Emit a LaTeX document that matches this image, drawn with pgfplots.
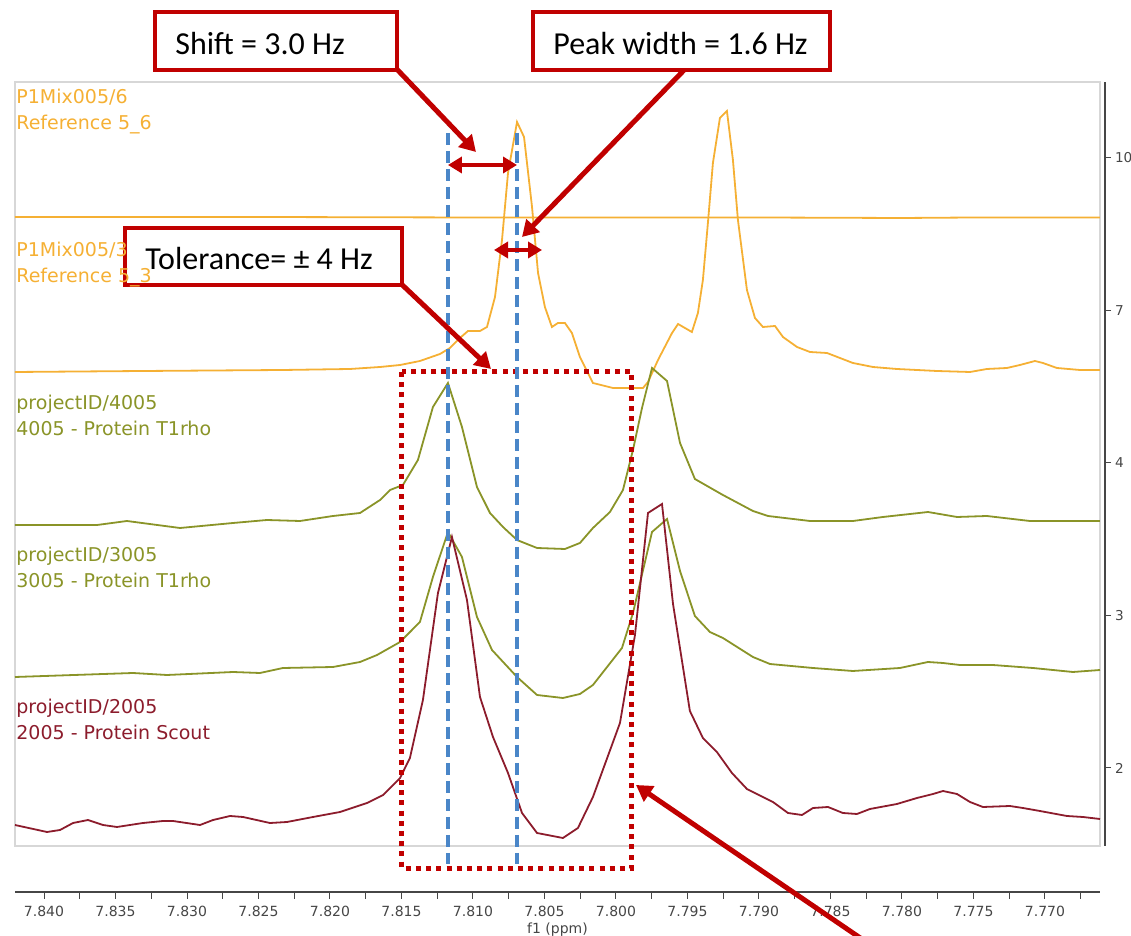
\documentclass[border=0pt]{standalone}
\usepackage{fontspec}
\usepackage{pgfplots}
\usepackage{pgfplotstable}
\pgfplotsset{compat=1.18}
\usetikzlibrary{arrows.meta}
\setmainfont{DejaVu Sans}
\newfontfamily\notefont{Carlito}

\definecolor{refcol}{RGB}{245,176,52}
\definecolor{olivecol}{RGB}{138,148,40}
\definecolor{scoutcol}{RGB}{140,28,44}
\definecolor{annred}{RGB}{192,0,0}
\definecolor{annblue}{RGB}{74,134,200}
\definecolor{framegray}{RGB}{215,215,215}
\definecolor{axisgray}{RGB}{70,70,70}

% stacked 1H spectra: chemical shift (ppm) and stacked intensity
\pgfplotstableread{
ppm int
7.84203 629
7.82500 629
7.81000 628.5
7.80000 628.5
7.79000 628.5
7.78000 628
7.77500 628.5
7.76615 628.5
}\refsix

\pgfplotstableread{
ppm int
7.84203 474
7.83308 475
7.82329 476
7.81860 477
7.81650 479
7.81510 481
7.81371 485
7.81231 492
7.81161 498
7.81091 508
7.81035 515
7.80951 515
7.80902 519
7.80846 549
7.80797 606
7.80755 673
7.80692 724
7.80643 709
7.80587 639
7.80545 573
7.80497 539
7.80448 519
7.80406 523
7.80357 523
7.80308 513
7.80252 489
7.80161 463
7.80021 458
7.79811 458
7.79776 464
7.79706 486
7.79608 513
7.79566 522
7.79469 514
7.79427 533
7.79392 566
7.79357 623
7.79322 683
7.79273 728
7.79224 735
7.79182 686
7.79147 626
7.79084 556
7.79028 528
7.78972 519
7.78888 520
7.78832 509
7.78734 499
7.78643 494
7.78524 493
7.78343 483
7.78203 479
7.78035 477
7.77755 475
7.77524 474
7.77406 477
7.77266 478
7.77175 481
7.77070 485
7.77014 483
7.76916 478
7.76755 476
7.76615 476
}\refthree

\pgfplotstableread{
ppm int
7.84203 321
7.83629 321
7.83420 325
7.83049 318
7.82678 323
7.82441 326
7.82210 325
7.81979 330
7.81790 333
7.81650 346
7.81580 356
7.81490 361
7.81385 386
7.81280 439
7.81175 463
7.81077 419
7.80972 359
7.80881 333
7.80790 319
7.80692 306
7.80552 298
7.80357 297
7.80252 303
7.80161 318
7.80042 334
7.79951 356
7.79881 396
7.79818 438
7.79748 478
7.79643 465
7.79552 403
7.79448 367
7.79252 351
7.79042 335
7.78937 330
7.78643 325
7.78343 325
7.78133 329
7.77818 334
7.77615 329
7.77406 330
7.77105 325
7.76615 325
}\protA

\pgfplotstableread{
ppm int
7.84203 169
7.83378 173
7.83140 171
7.82678 174
7.82490 173
7.82329 178
7.81979 179
7.81790 184
7.81671 191
7.81510 204
7.81371 224
7.81280 269
7.81175 314
7.81077 289
7.80972 229
7.80867 196
7.80692 169
7.80552 151
7.80371 148
7.80252 152
7.80161 161
7.79958 198
7.79881 233
7.79748 314
7.79643 327
7.79552 275
7.79448 230
7.79343 214
7.79252 208
7.79042 189
7.78923 182
7.78622 178
7.78343 175
7.78014 178
7.77818 184
7.77713 183
7.77594 181
7.77364 181
7.77084 178
7.76804 174
7.76615 176
}\protB

\pgfplotstableread{
ppm int
7.84203 21
7.83979 14
7.83888 16
7.83797 23
7.83692 26
7.83587 21
7.83490 19
7.83308 23
7.83168 25
7.83098 25
7.82909 21
7.82818 26
7.82699 30
7.82608 29
7.82420 23
7.82301 24
7.82119 29
7.81930 34
7.81741 43
7.81629 51
7.81510 68
7.81441 88
7.81350 146
7.81245 253
7.81147 309
7.81042 246
7.80951 149
7.80860 109
7.80755 73
7.80657 33
7.80552 13
7.80371 8
7.80266 18
7.80161 49
7.79972 123
7.79867 211
7.79776 333
7.79678 342
7.79601 242
7.79483 135
7.79392 108
7.79294 94
7.79189 73
7.79084 57
7.78902 44
7.78797 33
7.78699 31
7.78622 38
7.78517 39
7.78413 33
7.78315 32
7.78224 37
7.78035 42
7.77895 48
7.77783 52
7.77713 55
7.77615 52
7.77524 44
7.77434 39
7.77245 40
7.77154 38
7.77035 35
7.76846 30
7.76734 29
7.76615 27
}\scout

\begin{document}
\begin{tikzpicture}
\useasboundingbox (0,0) rectangle (565.5bp,468bp);

% ---- stacked spectra ----
\begin{axis}[
  at={(7.5bp,45bp)}, anchor=south west,
  scale only axis, width=542.5bp, height=382bp,
  x dir=reverse, xmin=7.76615, xmax=7.84203,
  ymin=0, ymax=764,
  xtick=\empty, ytick=\empty,
  axis line style={draw=framegray, line width=0.6bp},
  clip=false]
\addplot[refcol, line width=0.9bp] table[x=ppm,y=int] {\refsix};
\addplot[refcol, line width=0.9bp] table[x=ppm,y=int] {\refthree};
\addplot[olivecol, line width=0.9bp] table[x=ppm,y=int] {\protA};
\addplot[olivecol, line width=0.9bp] table[x=ppm,y=int] {\protB};
\addplot[scoutcol, line width=0.9bp] table[x=ppm,y=int] {\scout};

% tolerance window
\draw[annred, line width=2.5bp, dash pattern=on 2.5bp off 2.6bp]
  (axis cs:7.81497,474) rectangle (axis cs:7.79888,-22);

% observed and reference peak positions
\addplot[annblue, line width=2bp, dash pattern=on 6bp off 3bp] coordinates {(7.81175,713) (7.81175,-18)};
\addplot[annblue, line width=2bp, dash pattern=on 6bp off 3bp] coordinates {(7.80692,713) (7.80692,-18)};

% shift and peak width
\draw[annred, line width=2bp, {Triangle[length=7bp,width=8bp]}-{Triangle[length=7bp,width=8bp]}]
  (axis cs:7.81175,681) -- (axis cs:7.80692,681);
\draw[annred, line width=2bp, {Triangle[length=7bp,width=8bp]}-{Triangle[length=7bp,width=8bp]}]
  (axis cs:7.80853,596) -- (axis cs:7.80517,596);
\end{axis}

% ---- chemical shift axis ----
\begin{axis}[
  at={(7.5bp,22bp)}, anchor=south west,
  scale only axis, width=542.5bp, height=5bp,
  x dir=reverse, xmin=7.76615, xmax=7.84203,
  ymin=0, ymax=1,
  axis x line*=bottom, axis y line=none,
  x axis line style={-, draw=axisgray, line width=0.6bp},
  xtick={7.770,7.775,7.780,7.785,7.790,7.795,7.800,7.805,7.810,7.815,7.820,7.825,7.830,7.835,7.840},
  minor xtick={7.7675,7.7725,7.7775,7.7825,7.7875,7.7925,7.7975,7.8025,7.8075,7.8125,7.8175,7.8225,7.8275,7.8325,7.8375},
  tick align=outside, xtick pos=bottom,
  major tick length=3.5bp, minor tick length=3.5bp,
  every tick/.style={draw=axisgray, line width=0.5bp},
  every minor tick/.style={draw=axisgray, line width=0.5bp},
  xticklabel style={font=\fontsize{7bp}{8bp}\selectfont, text=axisgray},
  /pgf/number format/fixed, /pgf/number format/fixed zerofill,
  /pgf/number format/precision=3, /pgf/number format/assume math mode=true,
  xlabel={f1 (ppm)},
  xlabel style={font=\fontsize{7bp}{8bp}\selectfont, text=axisgray, inner sep=0pt, yshift=0.5bp}]
\end{axis}

% ---- intensity axis ----
\begin{axis}[
  at={(551.5bp,45bp)}, anchor=south west,
  scale only axis, width=1bp, height=382bp,
  xmin=0, xmax=1, ymin=0, ymax=764,
  axis y line*=right, axis x line=none,
  y axis line style={-, draw=axisgray, line width=0.6bp},
  ytick={78,230,383,535,688}, yticklabels={2,3,4,7,10},
  tick align=outside, major tick length=3bp,
  every tick/.style={draw=axisgray, line width=0.5bp},
  yticklabel style={font=\fontsize{6.8bp}{8bp}\selectfont, text=axisgray, xshift=-1.5bp}]
\end{axis}

% ---- notes ----
\begin{scope}[yshift=468bp, x=0.5bp, y=-0.5bp]
  \draw[annred, line width=2.5bp, -{Triangle[length=8bp,width=9bp]}] (390,62) -- (476,152);
  \draw[annred, line width=2.5bp, -{Triangle[length=8bp,width=9bp]}] (690,64) -- (522,237);
  \draw[annred, line width=2.5bp, -{Triangle[length=8bp,width=9bp]}] (396,279) -- (491,369);
  \draw[annred, line width=2.5bp, -{Triangle[length=8bp,width=9bp]}] (872,946) -- (636,785);

  \draw[annred, line width=2bp, fill=white] (155,12) rectangle (397,70);
  \draw[annred, line width=2bp, fill=white] (533,12) rectangle (830,70);
  \draw[annred, line width=2bp, fill=white] (125,228) rectangle (402,285);

  \begin{scope}[every node/.style={inner sep=0pt, anchor=base west,
      font=\notefont\fontsize{16bp}{18bp}\selectfont}]
    \node at (175,55) {Shift = 3.0 Hz};
    \node at (553,55) {Peak width = 1.6 Hz};
    \node at (145,270) {Tolerance= ± 4 Hz};
  \end{scope}

  \begin{scope}[every node/.style={inner sep=0pt, anchor=base west,
      font=\fontsize{9.5bp}{11bp}\selectfont}]
    \node[text=refcol] at (16,104) {P1Mix005/6};
    \node[text=refcol] at (16,130) {Reference 5\_6};
    \node[text=refcol] at (16,257) {P1Mix005/3};
    \node[text=refcol] at (16,283) {Reference 5\_3};
    \node[text=olivecol] at (16,410) {projectID/4005};
    \node[text=olivecol] at (16,436) {4005 - Protein T1rho};
    \node[text=olivecol] at (16,562) {projectID/3005};
    \node[text=olivecol] at (16,588) {3005 - Protein T1rho};
    \node[text=scoutcol] at (16,714) {projectID/2005};
    \node[text=scoutcol] at (16,740) {2005 - Protein Scout};
  \end{scope}
\end{scope}
\end{tikzpicture}
\end{document}
